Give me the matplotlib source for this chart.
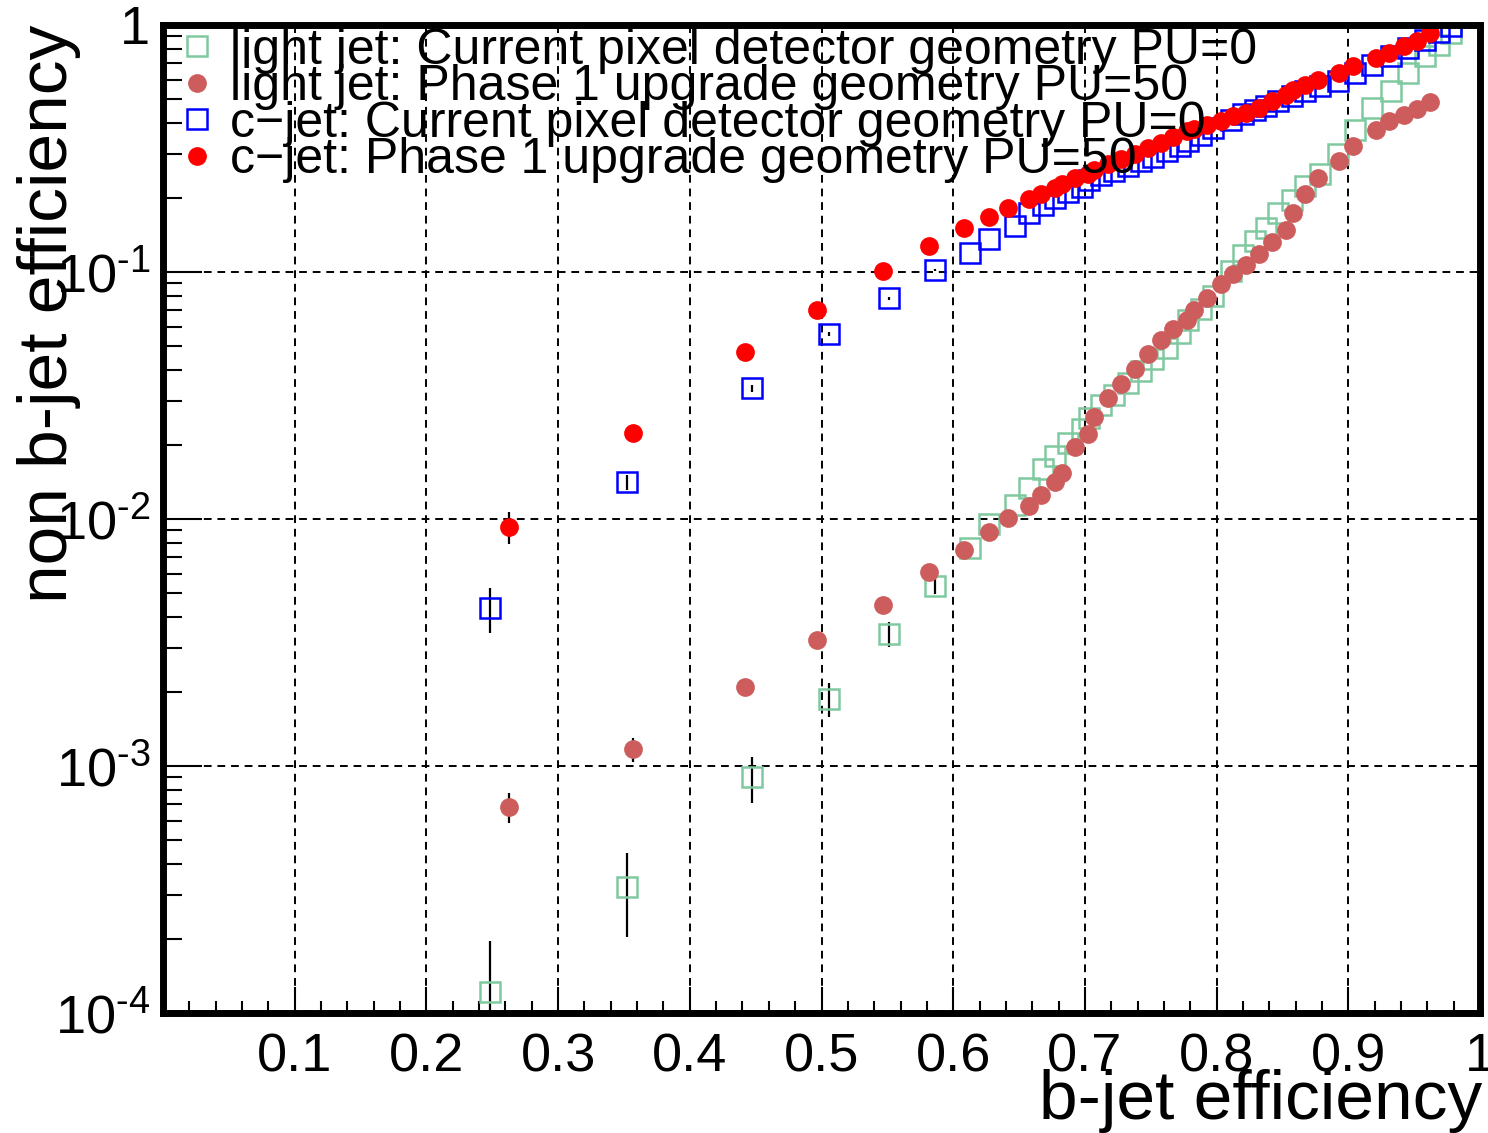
import matplotlib
matplotlib.use('Agg')
import matplotlib.pyplot as plt
from matplotlib.ticker import FixedLocator, MultipleLocator, LogLocator, NullFormatter
from matplotlib.lines import Line2D

plt.rcParams['font.family'] = ['Liberation Sans', 'DejaVu Sans']
plt.rcParams['mathtext.fontset'] = 'custom'
plt.rcParams['mathtext.rm'] = 'Liberation Sans'
plt.rcParams['mathtext.it'] = 'Liberation Sans:italic'
plt.rcParams['mathtext.bf'] = 'Liberation Sans:bold'

# ---------------- data ----------------
labels = [
    "light jet: Current pixel detector geometry PU=0",
    "light jet: Phase 1 upgrade geometry PU=50",
    "c\u2212jet: Current pixel detector geometry PU=0",
    "c\u2212jet: Phase 1 upgrade geometry PU=50",
]

eff_b_pu0 = [0.248, 0.352, 0.447, 0.506, 0.551, 0.586,
             0.6131, 0.6275, 0.647, 0.6576, 0.668, 0.677, 0.687, 0.698, 0.703, 0.7126,
             0.722, 0.733, 0.7427, 0.752, 0.762, 0.772, 0.778, 0.788, 0.7976, 0.8107,
             0.820, 0.829, 0.8374, 0.847, 0.857, 0.867, 0.8788, 0.8919, 0.905, 0.918,
             0.9325, 0.9455, 0.9586, 0.969, 0.978]

eff_b_pu50 = [0.2625, 0.357, 0.4417, 0.4968, 0.5467, 0.5816,
              0.6079, 0.6275, 0.6419, 0.6576, 0.667, 0.677, 0.6825, 0.6924, 0.702, 0.707,
              0.7173, 0.7277, 0.738, 0.7479, 0.7579, 0.767, 0.7775, 0.7825, 0.793, 0.803,
              0.8128, 0.8225, 0.8325, 0.842, 0.8526, 0.8578, 0.867, 0.877, 0.8932, 0.9037,
              0.9207, 0.931, 0.942, 0.952, 0.962]

light_pu0 = [1.22e-4, 3.23e-4, 9.0e-4, 1.87e-3, 3.43e-3, 5.37e-3,
             7.63e-3, 9.57e-3, 0.01142, 0.01336, 0.01593, 0.01794, 0.0203, 0.0231, 0.0256, 0.0290,
             0.0319, 0.0355, 0.0396, 0.0446, 0.0492, 0.0566, 0.0641, 0.0710, 0.0797, 0.101,
             0.117, 0.133, 0.151, 0.173, 0.196, 0.222, 0.25, 0.30, 0.377, 0.461,
             0.539, 0.639, 0.747, 0.832, 0.928]

light_pu50 = [6.85e-4, 1.17e-3, 2.09e-3, 3.24e-3, 4.47e-3, 6.1e-3,
              7.46e-3, 8.83e-3, 0.0101, 0.0113, 0.01256, 0.01407, 0.01535, 0.01958, 0.0221, 0.0258,
              0.0310, 0.0353, 0.0404, 0.0467, 0.0532, 0.0588, 0.0641, 0.070, 0.0785, 0.0894,
              0.098, 0.107, 0.118, 0.132, 0.148, 0.173, 0.206, 0.240, 0.281, 0.323,
              0.377, 0.407, 0.434, 0.457, 0.486]

c_pu0 = [4.37e-3, 0.01407, 0.0338, 0.056, 0.0782, 0.1016,
         0.119, 0.136, 0.153, 0.173, 0.187, 0.1995, 0.210, 0.221, 0.2366, 0.248,
         0.256, 0.268, 0.281, 0.291, 0.308, 0.325, 0.338, 0.360, 0.383, 0.414,
         0.438, 0.454, 0.472, 0.494, 0.518, 0.539, 0.565, 0.592, 0.640, 0.691,
         0.747, 0.807, 0.873, 0.933, 0.988]

c_pu50 = [9.29e-3, 0.0223, 0.0473, 0.0704, 0.1006, 0.128,
          0.151, 0.167, 0.1815, 0.198, 0.2075, 0.2188, 0.228, 0.240, 0.250, 0.2596,
          0.2746, 0.287, 0.301, 0.318, 0.333, 0.352, 0.371, 0.379, 0.395, 0.410,
          0.427, 0.440, 0.461, 0.491, 0.522, 0.547, 0.573, 0.601, 0.640, 0.684,
          0.735, 0.770, 0.820, 0.859, 0.93]

# statistical errors of the first (sparse) working points
light_pu0_err = [0.73e-4, 1.2e-4, 1.9e-4, 0.29e-3, 0.4e-3, 0.4e-3]
light_pu50_err = [0.95e-4, 0.13e-3, 0.1e-3, 0.1e-3, 0.1e-3, 0.1e-3]
c_pu0_err = [0.9e-3, 1.0e-3, 1.0e-3, 1.0e-3, 1.0e-3, 1.0e-3]
c_pu50_err = [1.4e-3, 1.2e-3, 1.0e-3, 1.0e-3, 1.0e-3, 1.0e-3]

xticks = [0.1, 0.2, 0.3, 0.4, 0.5, 0.6, 0.7, 0.8, 0.9, 1.0]
xticklabels = ['0.1', '0.2', '0.3', '0.4', '0.5', '0.6', '0.7', '0.8', '0.9', '1']
yticks = [1e-4, 1e-3, 1e-2, 1e-1, 1.0]
yticklabels = [r'$10^{\text{-4}}$', r'$10^{\text{-3}}$', r'$10^{\text{-2}}$', r'$10^{\text{-1}}$', '1']

# ---------------- styles ----------------
col_light0 = '#7fc9a0'
col_light50 = '#cd5c5c'
col_c0 = '#0000ff'
col_c50 = '#ff0000'

fig = plt.figure(figsize=(14.88, 11.33), dpi=100)
ax = fig.add_axes([163/1488, 1-1013/1133, (1480-163)/1488, (1013-25)/1133])

ax.set_yscale('log')
ax.set_xlim(0, 1)
ax.set_ylim(1e-4, 1)

n = len(light_pu0_err)
for xs, ys, es in [(eff_b_pu0, light_pu0, light_pu0_err),
                   (eff_b_pu50, light_pu50, light_pu50_err),
                   (eff_b_pu0, c_pu0, c_pu0_err),
                   (eff_b_pu50, c_pu50, c_pu50_err)]:
    ax.errorbar(xs[:n], ys[:n], yerr=es, fmt='none', ecolor='black',
                elinewidth=1.6, capsize=0, zorder=1.8)

sq_ms = 14
dot_ms = 13.5
ax.plot(eff_b_pu0, light_pu0, linestyle='none', marker='s', ms=sq_ms,
        mfc='none', mec=col_light0, mew=1.8, zorder=2)
ax.plot(eff_b_pu50, light_pu50, linestyle='none', marker='o', ms=dot_ms,
        mfc=col_light50, mec=col_light50, mew=0, zorder=2.1)
ax.plot(eff_b_pu0, c_pu0, linestyle='none', marker='s', ms=sq_ms,
        mfc='none', mec=col_c0, mew=1.8, zorder=2.2)
ax.plot(eff_b_pu50, c_pu50, linestyle='none', marker='o', ms=dot_ms,
        mfc=col_c50, mec=col_c50, mew=0, zorder=2.3)

# grid
ax.grid(True, which='major', color='black', linestyle=(0, (4, 3)), linewidth=1.4)

# ticks
ax.xaxis.set_major_locator(FixedLocator(xticks))
ax.set_xticklabels(xticklabels)
ax.xaxis.set_minor_locator(MultipleLocator(0.02))
ax.yaxis.set_major_locator(FixedLocator(yticks))
ax.set_yticklabels(yticklabels)
ax.yaxis.set_minor_locator(LogLocator(base=10, subs=[2, 3, 4, 5, 6, 7, 8, 9], numticks=20))
ax.yaxis.set_minor_formatter(NullFormatter())

ax.tick_params(axis='x', which='major', direction='in', length=19, width=1.5,
               labelsize=39, pad=14, top=False)
ax.tick_params(axis='x', which='minor', direction='in', length=8.5, width=1.5, top=False)
ax.tick_params(axis='y', which='major', direction='in', length=28, width=1.5,
               labelsize=39, pad=9, right=False)
ax.tick_params(axis='y', which='minor', direction='in', length=14, width=1.5, right=False)

for s in ax.spines.values():
    s.set_linewidth(5)
    s.set_color('black')

ax.set_xlabel('b-jet efficiency', fontsize=50, loc='right')
ax.xaxis.set_label_coords(1.0015, -0.057)
ax.set_ylabel('non b-jet efficiency', fontsize=50, loc='top')
ax.yaxis.set_label_coords(-0.062, 1.0)

# legend
handles = [
    Line2D([], [], linestyle='none', marker='s', ms=sq_ms, mfc='none', mec=col_light0, mew=1.8),
    Line2D([], [], linestyle='none', marker='o', ms=dot_ms, mfc=col_light50, mec=col_light50, mew=0),
    Line2D([], [], linestyle='none', marker='s', ms=sq_ms, mfc='none', mec=col_c0, mew=1.8),
    Line2D([], [], linestyle='none', marker='o', ms=dot_ms, mfc=col_c50, mec=col_c50, mew=0),
]
leg = ax.legend(handles, labels, loc='upper left', bbox_to_anchor=(0.0144, 0.997),
                frameon=False, fontsize=36, handlelength=0.6, handletextpad=0.36,
                labelspacing=-0.19, borderpad=0, borderaxespad=0)
leg.set_zorder(5)

fig.savefig('out.png', dpi=100)
